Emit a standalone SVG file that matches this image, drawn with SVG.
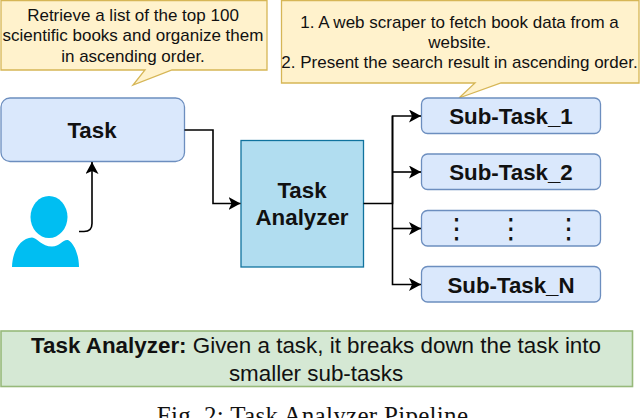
<svg xmlns="http://www.w3.org/2000/svg" width="640" height="418" viewBox="0 0 640 418">
<style>
text{font-family:"Liberation Sans",Arial,sans-serif;fill:#111;text-anchor:middle}
.c{font-size:17px}
.b{font-size:22.300px;font-weight:bold}
.n{fill:#dae8fc;stroke:#6c8ebf;stroke-width:1.3}
.s{fill:#fff2cc;stroke:#d6b656;stroke-width:1.3}
.l{fill:none;stroke:#000;stroke-width:1.6}
.d{font-family:"DejaVu Sans",sans-serif;font-size:28px}
.g{font-size:22.400px}
</style>
<defs><marker id="a" markerUnits="userSpaceOnUse" markerWidth="14" markerHeight="14" refX="12" refY="6.500" orient="auto"><path d="M0 0L12 6.500L0 13L3 6.500Z" fill="#000"/></marker></defs>
<rect width="640" height="418" fill="#fff"/>
<g id="callout-left"><path class="s" d="M1 0.500H267V70H172L133 85L145 70H1Z"/>
<text class="c" x="133" y="21">Retrieve a list of the top 100</text><text class="c" x="133" y="41">scientific books and organize them</text><text class="c" x="133" y="61.500">in ascending order.</text></g>
<g id="callout-right"><path class="s" d="M281.500 0.500H639V83H501L459 98L475 83H281.500Z"/>
<text class="c" x="459.500" y="28">1. A web scraper to fetch book data from a</text><text class="c" x="459.500" y="48">website.</text><text class="c" x="459.500" y="68">2. Present the search result in ascending order.</text></g>
<g id="task"><rect class="n" x="1" y="98" width="183.500" height="63.500" rx="9"/><text class="b" x="92" y="138">Task</text></g>
<g id="user"><ellipse cx="49" cy="217" rx="18.500" ry="21" fill="#00bef2"/><path d="M12 267C12.500 250 21 238 32 237.500C37 238 42 246.500 52 246.500C60 246.500 63 239 68 240C74 243 79 255 79 267Z" fill="#00bef2"/></g>
<g id="task-analyzer"><rect x="241" y="140.500" width="122.500" height="126.500" fill="#b1ddf0" stroke="#10739e" stroke-width="1.300"/><text class="b" x="302" y="198">Task</text><text class="b" x="302" y="225">Analyzer</text></g>
<g id="sub-task-1"><rect class="n" x="421.500" y="98" width="179" height="35.500" rx="6"/><text class="b" x="511" y="124">Sub-Task_1</text></g>
<g id="sub-task-2"><rect class="n" x="421.500" y="154" width="179" height="35.500" rx="6"/><text class="b" x="511" y="180">Sub-Task_2</text></g>
<g id="sub-task-dots"><rect class="n" x="421.500" y="210.500" width="179" height="35.500" rx="6"/><text class="d" x="456.700" y="238">⋮</text><text class="d" x="511" y="238">⋮</text><text class="d" x="568.700" y="238">⋮</text></g>
<g id="sub-task-n"><rect class="n" x="421.500" y="266.500" width="179" height="35.500" rx="6"/><text class="b" x="511" y="292.500">Sub-Task_N</text></g>
<g id="connectors">
<path class="l" d="M79 231.500H84Q92 231.500 92 223.500V162" marker-end="url(#a)"/>
<path class="l" d="M184.500 130H213V203.500H240.500" marker-end="url(#a)"/>
<path class="l" d="M363.500 203.500H392.500V116H421" marker-end="url(#a)"/>
<path class="l" d="M392.500 172H421" marker-end="url(#a)"/>
<path class="l" d="M392.500 116V284.500H421" marker-end="url(#a)"/>
<path class="l" d="M392.500 228.500H421" marker-end="url(#a)"/>
</g>
<g id="note"><rect x="1" y="331" width="631.500" height="55.500" fill="#d5e8d4" stroke="#97b97a" stroke-width="1.600"/>
<text class="g" x="316" y="353"><tspan font-weight="bold">Task Analyzer:</tspan> Given a task, it breaks down the task into</text><text class="g" x="316" y="381">smaller sub-tasks</text></g>
<text x="312.500" y="424" style="font-family:'Liberation Serif',serif;font-size:25px;letter-spacing:0.300px">Fig. 2: Task Analyzer Pipeline</text>
</svg>
